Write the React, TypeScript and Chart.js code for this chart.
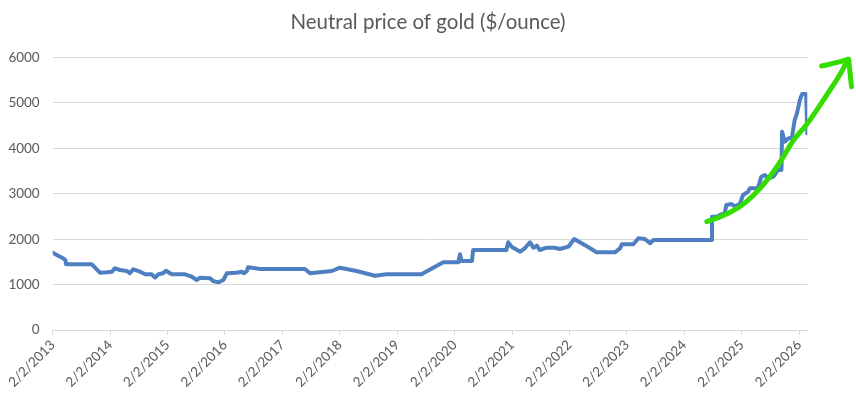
import React, { useEffect, useRef } from "react";
import { Chart, registerables } from "chart.js";

Chart.register(...registerables);

const chartTitle = "Neutral price of gold ($/ounce)";

// Dates as decimal years (2/2/YYYY ~ YYYY.088)
const years = [
  2013.088, 2013.19, 2013.27, 2013.31, 2013.32, 2013.77, 2013.91, 2014.03, 2014.12, 2014.17,
  2014.26, 2014.38, 2014.43, 2014.49, 2014.61, 2014.70, 2014.81, 2014.87, 2014.93, 2015.01,
  2015.06, 2015.16, 2015.39, 2015.51, 2015.60, 2015.65, 2015.83, 2015.88, 2015.97, 2016.06,
  2016.12, 2016.29, 2016.38, 2016.42, 2016.47, 2016.49, 2016.70, 2017.48, 2017.57, 2017.95,
  2018.09, 2018.38, 2018.70, 2018.90, 2019.51, 2019.89, 2020.15, 2020.18, 2020.21, 2020.39,
  2020.41, 2020.99, 2021.02, 2021.08, 2021.23, 2021.31, 2021.40, 2021.46, 2021.52, 2021.57,
  2021.69, 2021.83, 2021.92, 2022.07, 2022.17, 2022.33, 2022.47, 2022.56, 2022.88, 2022.97,
  2023.00, 2023.20, 2023.29, 2023.40, 2023.49, 2023.55, 2024.56, 2024.57, 2024.65, 2024.71,
  2024.79, 2024.82, 2024.91, 2024.97, 2025.06, 2025.11, 2025.20, 2025.23, 2025.37, 2025.43,
  2025.49, 2025.55, 2025.64, 2025.72, 2025.78, 2025.79, 2025.84, 2025.90, 2025.96, 2026.01,
  2026.05, 2026.10, 2026.14, 2026.21, 2026.23,
];

const prices = [
  1703, 1630, 1579, 1542, 1447, 1447, 1262, 1270, 1284, 1359,
  1322, 1300, 1249, 1336, 1284, 1227, 1227, 1152, 1227, 1249,
  1306, 1227, 1227, 1174, 1101, 1152, 1138, 1079, 1050, 1101,
  1249, 1262, 1284, 1249, 1300, 1381, 1344, 1344, 1249, 1300,
  1372, 1300, 1196, 1227, 1227, 1491, 1491, 1667, 1520, 1520,
  1762, 1762, 1932, 1835, 1725, 1800, 1932, 1813, 1857, 1762,
  1813, 1813, 1784, 1835, 2004, 1888, 1784, 1711, 1711, 1800,
  1888, 1888, 2020, 2004, 1910, 1982, 1982, 2496, 2496, 2533,
  2570, 2753, 2775, 2716, 2790, 2974, 3046, 3120, 3120, 3377,
  3414, 3341, 3377, 3524, 3524, 4368, 4148, 4222, 4222, 4626,
  4773, 5066, 5198, 5198, 4332,
];

const tickYears = [
  2013.088, 2014.088, 2015.088, 2016.088, 2017.088, 2018.088, 2019.088,
  2020.088, 2021.088, 2022.088, 2023.088, 2024.088, 2025.088, 2026.088,
];
const tickLabels = [
  "2/2/2013", "2/2/2014", "2/2/2015", "2/2/2016", "2/2/2017", "2/2/2018", "2/2/2019",
  "2/2/2020", "2/2/2021", "2/2/2022", "2/2/2023", "2/2/2024", "2/2/2025", "2/2/2026",
];

// Hand-drawn green trend arrow (in data units)
const arrowYears = [2024.48, 2024.94, 2025.40, 2025.75, 2025.98, 2026.22, 2026.51, 2026.80, 2026.94];
const arrowValues = [2385, 2570, 3084, 3672, 4185, 4515, 5066, 5617, 5963];
const arrowHeadYears = [2026.48, 2026.68, 2026.95, 2027.00];
const arrowHeadValues = [5815, 5860, 5965, 5360];

export default function App() {
  const ref = useRef<HTMLCanvasElement>(null);

  useEffect(() => {
    if (!ref.current) return;
    const arrowPlugin = {
      id: "greenArrow",
      afterDatasetsDraw(chart: any) {
        const { ctx, scales } = chart;
        const xs = scales.x;
        const ys = scales.y;
        const pts = arrowYears.map((v, i) => [xs.getPixelForValue(v), ys.getPixelForValue(arrowValues[i])]);
        ctx.save();
        ctx.strokeStyle = "#33dd00";
        ctx.lineWidth = 5;
        ctx.lineCap = "round";
        ctx.lineJoin = "round";
        ctx.beginPath();
        ctx.moveTo(pts[0][0], pts[0][1]);
        for (let i = 1; i < pts.length - 1; i++) {
          const mx = (pts[i][0] + pts[i + 1][0]) / 2;
          const my = (pts[i][1] + pts[i + 1][1]) / 2;
          ctx.quadraticCurveTo(pts[i][0], pts[i][1], mx, my);
        }
        ctx.lineTo(pts[pts.length - 1][0], pts[pts.length - 1][1]);
        ctx.stroke();
        const head = arrowHeadYears.map((v, i) => [xs.getPixelForValue(v), ys.getPixelForValue(arrowHeadValues[i])]);
        ctx.beginPath();
        ctx.moveTo(head[0][0], head[0][1]);
        ctx.quadraticCurveTo(head[1][0], head[1][1], head[2][0], head[2][1]);
        ctx.lineTo(head[3][0], head[3][1]);
        ctx.stroke();
        ctx.restore();
      },
    };

    const chart = new Chart(ref.current, {
      type: "line",
      data: {
        datasets: [
          {
            data: years.map((v, i) => ({ x: v, y: prices[i] })),
            borderColor: "#4e7fc0",
            borderWidth: 4,
            pointRadius: 0,
            borderJoinStyle: "round",
            borderCapStyle: "round",
            tension: 0,
            fill: false,
          },
        ],
      },
      options: {
        responsive: false,
        animation: false,
        devicePixelRatio: 1,
        layout: { padding: 0 },
        plugins: {
          legend: { display: false },
          tooltip: { enabled: false },
          title: {
            display: true,
            text: chartTitle,
            color: "#595959",
            font: { family: "Lato", size: 20.5, weight: "normal" },
            padding: { top: 10.3, bottom: 22.7 },
          },
        },
        scales: {
          x: {
            type: "linear",
            min: 2013.088,
            max: 2026.23,
            afterBuildTicks: (s: any) => {
              s.ticks = tickYears.map((v) => ({ value: v }));
            },
            afterFit: (s: any) => {
              s.height = 65;
            },
            ticks: {
              autoSkip: false,
              maxRotation: 45,
              minRotation: 45,
              padding: 2,
              color: "#595959",
              font: { family: "Lato", size: 13.5 },
              callback: (_v: any, i: number) => tickLabels[i],
            },
            grid: { drawOnChartArea: false, drawTicks: true, tickLength: 5, color: "#d9d9d9" },
            border: { display: true, color: "#d9d9d9" },
          },
          y: {
            min: 0,
            max: 6000,
            afterFit: (s: any) => {
              s.width = 52.7;
            },
            ticks: {
              stepSize: 1000,
              padding: 13,
              color: "#595959",
              font: { family: "Lato", size: 13.5 },
              callback: (v: any) => String(v),
            },
            grid: { color: "#d9d9d9", drawTicks: false },
            border: { display: false },
          },
          spacer: {
            type: "linear",
            position: "right",
            display: true,
            min: 0,
            max: 1,
            afterFit: (s: any) => {
              s.width = 48.7;
            },
            ticks: { display: false },
            grid: { display: false, drawOnChartArea: false, drawTicks: false },
            border: { display: false },
          },
        },
      },
      plugins: [arrowPlugin],
    } as any);
    return () => chart.destroy();
  }, []);

  return (
    <div style={{ position: "fixed", left: 0, top: 0, width: 856, height: 395, background: "#fff" }}>
      <canvas ref={ref} width={856} height={395} style={{ display: "block" }} />
    </div>
  );
}
